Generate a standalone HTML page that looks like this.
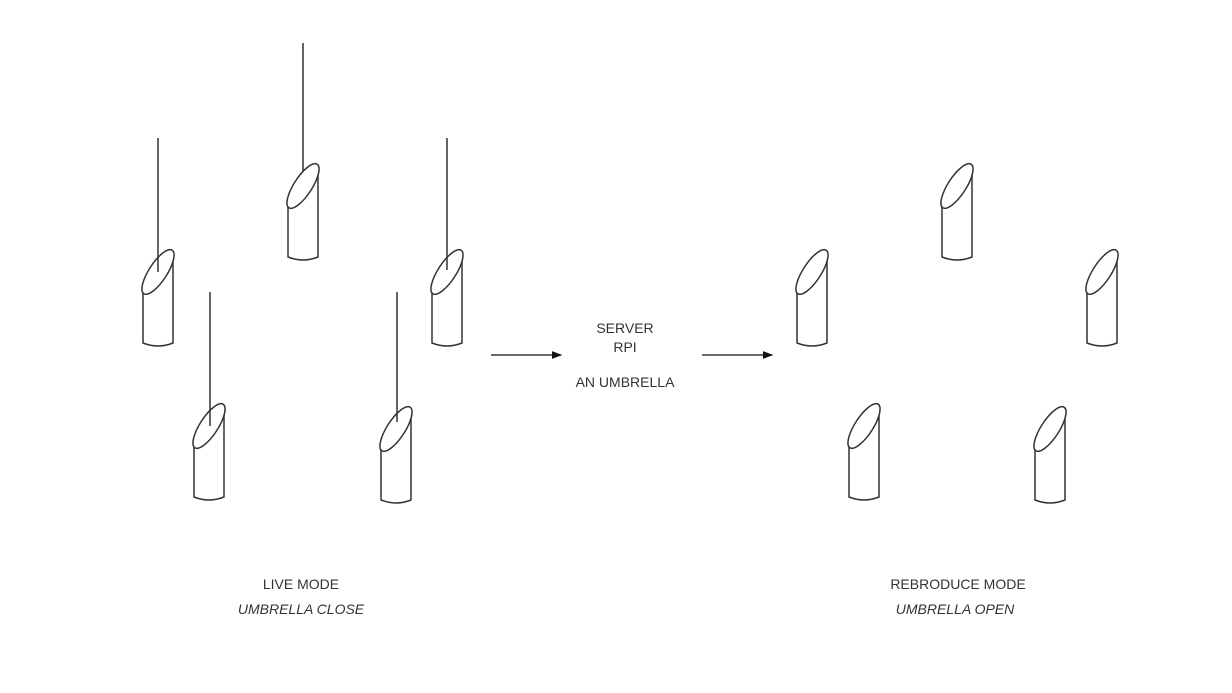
<!DOCTYPE html>
<html><head><style>body{margin:0;background:#fff}svg{display:block}text{font-family:"Liberation Sans",sans-serif;font-size:14px;fill:#333;text-anchor:middle}</style></head><body>
<svg width="1232" height="693" viewBox="0 0 1232 693" xmlns="http://www.w3.org/2000/svg">
<defs>
<g id="cyl" fill="none" stroke="#333" stroke-width="1.5">
<path d="M0,-54 L0,-2 Q15,4 30,-2 L30,-92"/>
<ellipse cx="15" cy="-73" rx="26" ry="9" transform="rotate(-57 15 -73)" fill="#fff"/>
</g>
<marker id="ar" markerWidth="8" markerHeight="6" refX="7" refY="3" orient="auto"><path d="M0,0 L8,3 L0,6z" fill="#111"/></marker>
</defs>
<use href="#cyl" x="143" y="345"/>
<use href="#cyl" x="288" y="259"/>
<use href="#cyl" x="432" y="345"/>
<use href="#cyl" x="194" y="499"/>
<use href="#cyl" x="381" y="502"/>
<use href="#cyl" x="797" y="345"/>
<use href="#cyl" x="942" y="259"/>
<use href="#cyl" x="1087" y="345"/>
<use href="#cyl" x="849" y="499"/>
<use href="#cyl" x="1035" y="502"/>
<g stroke="#333" stroke-width="1.5">
<line x1="158" y1="138" x2="158" y2="272"/>
<line x1="303" y1="43" x2="303" y2="172"/>
<line x1="447" y1="138" x2="447" y2="270"/>
<line x1="210" y1="292" x2="210" y2="426"/>
<line x1="397" y1="292" x2="397" y2="422"/>
</g>
<g stroke="#111" stroke-width="1.3">
<line x1="491" y1="355" x2="561" y2="355" marker-end="url(#ar)"/>
<line x1="702" y1="355" x2="772" y2="355" marker-end="url(#ar)"/>
</g>
<text x="625" y="333">SERVER</text>
<text x="625" y="352">RPI</text>
<text x="625" y="387">AN UMBRELLA</text>
<text x="301" y="589">LIVE MODE</text>
<text x="301" y="614" font-style="italic">UMBRELLA CLOSE</text>
<text x="958" y="589">REBRODUCE MODE</text>
<text x="955" y="614" font-style="italic">UMBRELLA OPEN</text>
</svg>
</body></html>
